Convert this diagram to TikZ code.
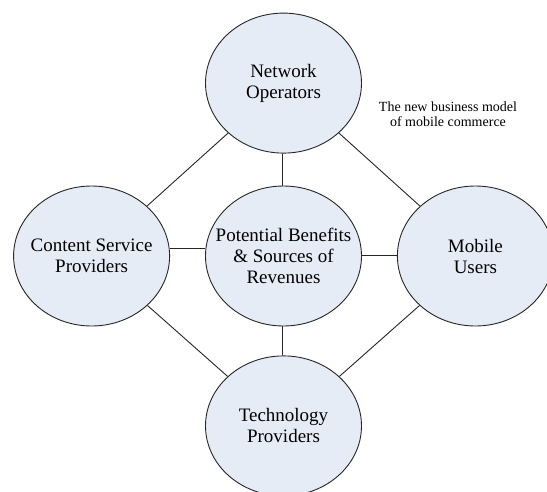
\documentclass[tikz,border=0pt]{standalone}
\usepackage{fontspec}
\setmainfont{Liberation Serif}
\usetikzlibrary{shapes.geometric, positioning}

\definecolor{bubblefill}{RGB}{230,236,246}

\begin{document}
\begin{tikzpicture}[
        x=1pt, y=1pt,
        node distance=32pt and 35pt,
        party/.style={ellipse, draw=black!85, fill=bubblefill, line width=0.9pt, minimum width=156pt, minimum height=140pt, inner sep=-22pt, align=center, font=\fontsize{19}{21}\selectfont},
        link/.style={line width=0.9pt, draw=black!85}
    ]
    \useasboundingbox (0,0) rectangle (547,-491);

    % Central node and the four parties round it
    \node[party] (benefits) at (283.5,-256) {Potential Benefits\\\& Sources of\\Revenues};
    \node[party, above=32pt of benefits] (netop) {Network\\Operators};
    \node[party, left=35pt of benefits] (content) {Content Service\\Providers};
    \node[party, right=35pt of benefits] (mobile) {Mobile\\Users};
    \node[party, below=29pt of benefits] (tech) {Technology\\Providers};

    % Title
    \node[align=center, font=\fontsize{14}{15}\selectfont] (title) at (448,-114) {The new business model\\of mobile commerce};

    % Links
    \draw[link] ([xshift=-1.5pt]netop.south) -- ([xshift=-1.5pt]benefits.north);
    \draw[link] ([yshift=8pt]content.east) -- ([yshift=8pt]benefits.west);
    \draw[link] ([yshift=1pt]benefits.east) -- ([yshift=1pt]mobile.west);
    \draw[link] ([xshift=-1.5pt]benefits.south) -- ([xshift=-1.5pt]tech.north);
    \draw[link] (netop) -- (content);
    \draw[link] (netop) -- (mobile);
    \draw[link] (content) -- (tech);
    \draw[link] (mobile) -- (tech);

    \end{tikzpicture}
\end{document}
